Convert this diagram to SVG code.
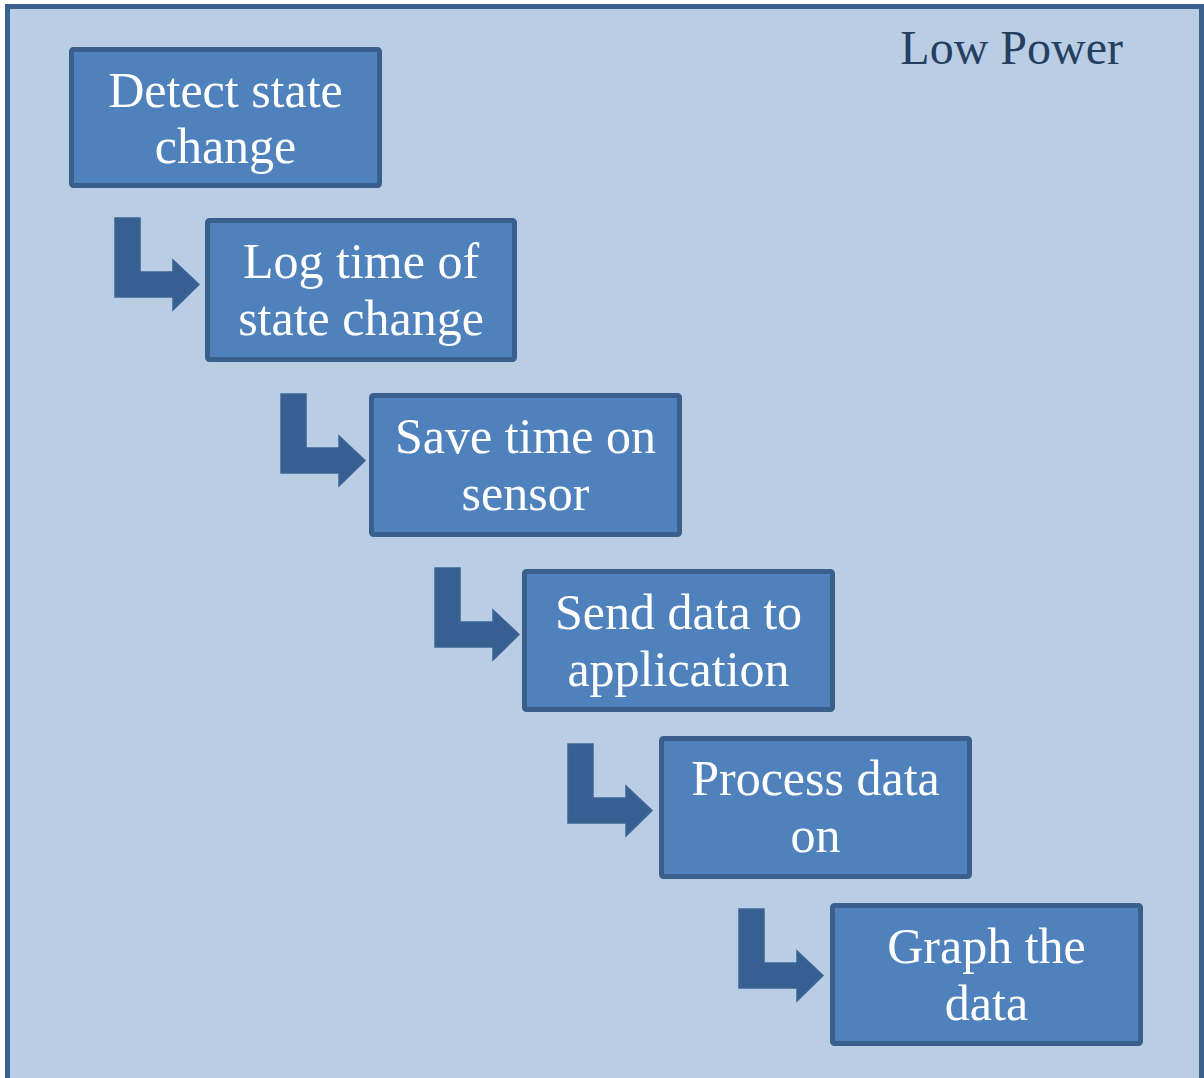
<svg xmlns="http://www.w3.org/2000/svg" width="1204" height="1078" viewBox="0 0 1204 1078">
  <defs>
    <style>
      .frame { fill: #b9cde5; stroke: #3a6190; stroke-width: 5; }
      .box { fill: #4f81bd; stroke: #3a5f8d; stroke-width: 5; }
      .label { fill: #ffffff; font-family: "Liberation Serif", "Times New Roman", serif; font-size: 50px; text-anchor: middle; }
      .title { fill: #243f60; font-family: "Liberation Serif", "Times New Roman", serif; font-size: 48px; text-anchor: end; }
      .bent { fill: #375f92; stroke: #3d6595; stroke-width: 1.5; stroke-linejoin: miter; }
    </style>
    <!-- bent arrow: down, then right into the next step -->
    <path id="bent-arrow" d="M0,0 H25 V54 H58 V42 L84,66.5 L58,92 V79 H0 Z"/>
  </defs>

  <!-- outer panel -->
  <rect class="frame" x="7.5" y="6.5" width="1194" height="1100"/>
  <text class="title" x="1123" y="64">Low Power</text>

  <!-- connectors -->
  <g id="connectors">
    <use class="bent" href="#bent-arrow" x="115" y="218"/>
    <use class="bent" href="#bent-arrow" x="281" y="394"/>
    <use class="bent" href="#bent-arrow" x="435" y="568"/>
    <use class="bent" href="#bent-arrow" x="568" y="744"/>
    <use class="bent" href="#bent-arrow" x="739" y="909"/>
  </g>

  <g id="detect">
    <rect class="box" x="71.5" y="49.5" width="308" height="136" rx="2"/>
    <text class="label" x="225.5" y="107">Detect state</text>
    <text class="label" x="225.5" y="163">change</text>
  </g>

  <g id="log-time">
    <rect class="box" x="207.5" y="220.5" width="307" height="139" rx="2"/>
    <text class="label" x="361" y="278">Log time of</text>
    <text class="label" x="361" y="335">state change</text>
  </g>

  <g id="save-time">
    <rect class="box" x="371.5" y="395.5" width="308" height="139" rx="2"/>
    <text class="label" x="525.5" y="453">Save time on</text>
    <text class="label" x="525.5" y="510">sensor</text>
  </g>

  <g id="send-data">
    <rect class="box" x="524.5" y="571.5" width="308" height="138" rx="2"/>
    <text class="label" x="678.5" y="629">Send data to</text>
    <text class="label" x="678.5" y="686">application</text>
  </g>

  <g id="process-data">
    <rect class="box" x="661.5" y="738.5" width="308" height="138" rx="2"/>
    <text class="label" x="815.5" y="795">Process data</text>
    <text class="label" x="815.5" y="852">on</text>
  </g>

  <g id="graph-data">
    <rect class="box" x="832.5" y="905.5" width="308" height="138" rx="2"/>
    <text class="label" x="986.5" y="963">Graph the</text>
    <text class="label" x="986.5" y="1020">data</text>
  </g>
</svg>
